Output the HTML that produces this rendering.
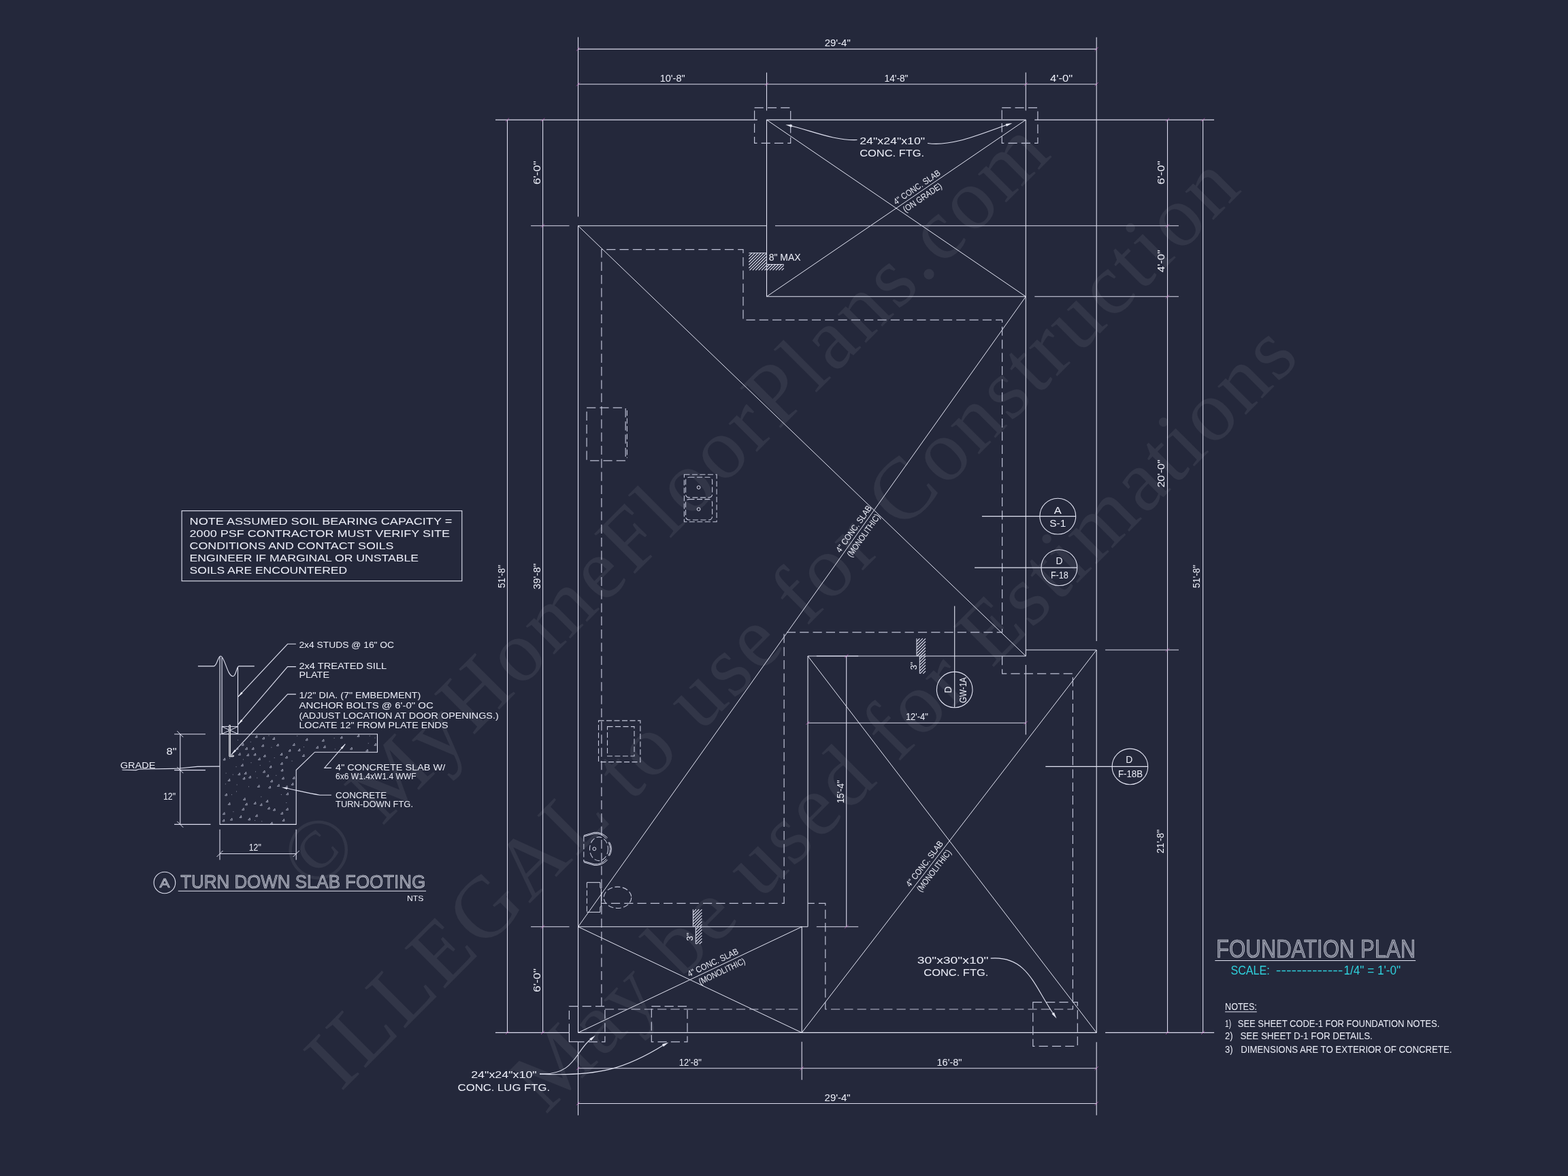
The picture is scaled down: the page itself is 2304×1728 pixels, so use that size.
<!DOCTYPE html>
<html lang="en"><head><meta charset="utf-8"><title>Foundation Plan</title>
<style>
html,body{margin:0;padding:0;background:#24283b;}
body{width:2304px;height:1728px;overflow:hidden;}
svg{display:block;will-change:transform;}
text{font-family:"Liberation Sans",sans-serif;}
.s{stroke:#e2e4f3;stroke-width:1.1;fill:none;}
.g{stroke:#e4e6f4;stroke-width:1.0;fill:none;}
.m{stroke:#dcdcee;stroke-width:1.1;fill:none;}
.d{stroke:#bfc2d6;stroke-width:1.2;fill:none;stroke-dasharray:13.2 6.1;}
.d2{stroke:#c4c7da;stroke-width:1.1;fill:none;stroke-dasharray:8 3.5;}
.h{stroke:#dfe1f1;stroke-width:1.0;fill:none;}
.l{stroke:#dfe1f1;stroke-width:1.1;fill:none;}
.k{stroke:#e060d0;stroke-width:1;fill:none;opacity:.6;}
.f{fill:#e6e8f4;stroke:none;}
.b{stroke:#f4f5fb;stroke-width:2.7;fill:none;stroke-linecap:round;stroke-linejoin:round;}
.t{fill:#eceef8;}
.tt{fill:#e4e6f4;fill-opacity:.4;stroke:#eceef8;stroke-width:.6;stroke-opacity:.9;}
.c{fill:#2fd0dc;}
.wm text{font-family:"Liberation Serif",serif;fill:#ffffff;fill-opacity:.068;}
</style></head>
<body>
<svg xmlns="http://www.w3.org/2000/svg" width="2304" height="1728" viewBox="0 0 2304 1728">
<rect width="2304" height="1728" fill="#24283b"/>

<g class="wm">
<text font-size="128" transform="translate(463 1313) rotate(-45)" textLength="1533" lengthAdjust="spacing">© MyHomeFloorPlans.com</text>
<text font-size="128" transform="translate(501 1605) rotate(-45)" textLength="1874" lengthAdjust="spacing">ILLEGAL to use for Construction</text>
<text font-size="128" transform="translate(801.5 1638.5) rotate(-45)" textLength="1570" lengthAdjust="spacing">May be used for Estimations</text>
</g>
<g id="plan">
<line class="s" x1="1126.5" y1="176.1" x2="1507.3" y2="176.1"/>
<line class="s" x1="1126.5" y1="176.1" x2="1126.5" y2="435.8"/>
<line class="s" x1="1126.5" y1="435.8" x2="1507.3" y2="435.8"/>
<line class="s" x1="1507.3" y1="176.1" x2="1507.3" y2="964.0"/>
<line class="g" x1="1126.5" y1="176.1" x2="1507.3" y2="435.8"/>
<line class="g" x1="1126.5" y1="435.8" x2="1507.3" y2="176.1"/>
<line class="s" x1="849.5" y1="331.8" x2="1126.5" y2="331.8"/>
<line class="s" x1="849.5" y1="331.8" x2="849.5" y2="1517.4"/>
<line class="s" x1="849.5" y1="1361.8" x2="1187.0" y2="1361.8"/>
<line class="g" x1="849.5" y1="331.8" x2="1507.3" y2="964.0"/>
<line class="g" x1="849.5" y1="1361.8" x2="1507.3" y2="435.8"/>
<line class="s" x1="1187.0" y1="964.0" x2="1507.3" y2="964.0"/>
<line class="s" x1="1507.3" y1="955.0" x2="1611.2" y2="955.0"/>
<line class="s" x1="1611.2" y1="955.0" x2="1611.2" y2="1517.4"/>
<line class="s" x1="849.5" y1="1517.4" x2="1611.2" y2="1517.4"/>
<line class="s" x1="1187.0" y1="964.0" x2="1187.0" y2="1361.8"/>
<line class="g" x1="1187.0" y1="964.0" x2="1611.2" y2="1517.4"/>
<line class="g" x1="1178.2" y1="1517.4" x2="1611.2" y2="955.0"/>
<line class="s" x1="1178.2" y1="1361.8" x2="1178.2" y2="1517.4"/>
<line class="g" x1="849.5" y1="1361.8" x2="1178.2" y2="1517.4"/>
<line class="g" x1="849.5" y1="1517.4" x2="1178.2" y2="1361.8"/>
<line class="m" x1="849.5" y1="54.5" x2="849.5" y2="318.4"/>
<line class="m" x1="1126.5" y1="106.6" x2="1126.5" y2="162.6"/>
<line class="m" x1="1507.3" y1="106.6" x2="1507.3" y2="162.6"/>
<line class="m" x1="1611.2" y1="54.8" x2="1611.2" y2="942.0"/>
<line class="m" x1="849.5" y1="72.1" x2="1611.2" y2="72.1"/>
<line class="m" x1="849.5" y1="123.8" x2="1611.2" y2="123.8"/>
<path class="k" d="M846.9 74.7L852.1 69.5"/>
<path class="k" d="M1608.6 74.7L1613.8 69.5"/>
<path class="k" d="M846.9 126.4L852.1 121.2"/>
<path class="k" d="M1123.9 126.4L1129.1 121.2"/>
<path class="k" d="M1504.7 126.4L1509.9 121.2"/>
<path class="k" d="M1608.6 126.4L1613.8 121.2"/>
<line class="m" x1="728.0" y1="176.1" x2="1112.8" y2="176.1"/>
<line class="m" x1="1520.3" y1="176.1" x2="1784.0" y2="176.1"/>
<line class="m" x1="780.1" y1="331.8" x2="836.5" y2="331.8"/>
<line class="m" x1="1139.0" y1="331.8" x2="1731.9" y2="331.8"/>
<line class="m" x1="1520.3" y1="435.8" x2="1731.9" y2="435.8"/>
<line class="m" x1="1624.1" y1="955.0" x2="1732.0" y2="955.0"/>
<line class="m" x1="1624.1" y1="1517.4" x2="1784.1" y2="1517.4"/>
<line class="m" x1="780.1" y1="1361.8" x2="836.5" y2="1361.8"/>
<line class="m" x1="727.9" y1="1517.4" x2="836.4" y2="1517.4"/>
<line class="m" x1="745.5" y1="176.1" x2="745.5" y2="1517.4"/>
<line class="m" x1="797.6" y1="176.1" x2="797.6" y2="1517.4"/>
<line class="m" x1="1715.5" y1="176.1" x2="1715.5" y2="1517.4"/>
<line class="m" x1="1767.6" y1="176.1" x2="1767.6" y2="1517.4"/>
<path class="k" d="M742.9 178.7L748.1 173.5"/>
<path class="k" d="M1765.0 178.7L1770.2 173.5"/>
<path class="k" d="M742.9 1520.0L748.1 1514.8"/>
<path class="k" d="M1765.0 1520.0L1770.2 1514.8"/>
<path class="k" d="M795.0 178.7L800.2 173.5"/>
<path class="k" d="M795.0 334.4L800.2 329.2"/>
<path class="k" d="M795.0 1364.4L800.2 1359.2"/>
<path class="k" d="M795.0 1520.0L800.2 1514.8"/>
<path class="k" d="M1712.9 178.7L1718.1 173.5"/>
<path class="k" d="M1712.9 334.4L1718.1 329.2"/>
<path class="k" d="M1712.9 438.4L1718.1 433.2"/>
<path class="k" d="M1712.9 957.6L1718.1 952.4"/>
<path class="k" d="M1712.9 1520.0L1718.1 1514.8"/>
<line class="m" x1="849.5" y1="1530.8" x2="849.5" y2="1638.8"/>
<line class="m" x1="1178.2" y1="1530.8" x2="1178.2" y2="1586.7"/>
<line class="m" x1="1611.2" y1="1531.2" x2="1611.2" y2="1638.8"/>
<line class="m" x1="849.5" y1="1569.8" x2="1611.2" y2="1569.8"/>
<line class="m" x1="849.5" y1="1621.5" x2="1611.2" y2="1621.5"/>
<path class="k" d="M846.9 1572.4L852.1 1567.2"/>
<path class="k" d="M1175.6 1572.4L1180.8 1567.2"/>
<path class="k" d="M1608.6 1572.4L1613.8 1567.2"/>
<path class="k" d="M846.9 1624.1L852.1 1618.9"/>
<path class="k" d="M1608.6 1624.1L1613.8 1618.9"/>
<line class="m" x1="1243.7" y1="964.0" x2="1243.7" y2="1361.8"/>
<line class="m" x1="1199.8" y1="964.0" x2="1261.2" y2="964.0"/>
<line class="m" x1="1199.8" y1="1361.8" x2="1261.2" y2="1361.8"/>
<path class="k" d="M1241.1 966.6L1246.3 961.4"/>
<path class="k" d="M1241.1 1364.4L1246.3 1359.2"/>
<line class="m" x1="1187.0" y1="1062.2" x2="1507.3" y2="1062.2"/>
<line class="m" x1="1507.3" y1="977.0" x2="1507.3" y2="1079.4"/>
<path class="k" d="M1184.4 1064.8L1189.6 1059.6"/>
<path class="k" d="M1504.7 1064.8L1509.9 1059.6"/>
<path class="d" d="M883.9 1478.7L883.9 366.6L1092.0 366.6L1092.0 470.2L1472.6 470.2L1472.6 929.2L1152.1 929.2L1152.1 1327.4L883.9 1327.4"/>
<path class="d" d="M1472.6 964.0L1472.6 989.8L1576.4 989.8L1576.4 1483.0L1212.8 1483.0L1212.8 1327.4L1187.0 1327.4"/>
<line class="d" x1="888.9" y1="1483.0" x2="1178.2" y2="1483.0"/>
<rect class="d" x="1108.6" y="158.3" width="53.1" height="52.1"/>
<rect class="d" x="1472.2" y="158.3" width="52.7" height="52.1"/>
<path class="d" d="M836.4 1517.4L836.4 1478.7L888.9 1478.7L888.9 1530.8L849.5 1530.8"/>
<path class="m" d="M836.4 1517.4L836.4 1530.8L849.5 1530.8"/>
<rect class="d" x="957.3" y="1478.7" width="52.7" height="52.1"/>
<rect class="d" x="1517.8" y="1472.6" width="65.5" height="64.7"/>
<rect class="d" x="862.1" y="599.2" width="57.1" height="77.7"/>
<line class="d2" x1="921.4" y1="603.0" x2="921.4" y2="673.0"/>
<rect class="d2" x="1005.4" y="697.3" width="47.7" height="69.5"/>
<rect class="d2" x="1007.5" y="701.2" width="39.1" height="29.9" rx="5"/>
<rect class="d2" x="1007.5" y="733.6" width="39.1" height="30.4" rx="5"/>
<circle class="h" cx="1026.6" cy="716.2" r="2.4"/>
<circle class="h" cx="1026.6" cy="748.2" r="2.4"/>
<rect class="d2" x="879.5" y="1058.9" width="61.4" height="60.7"/>
<rect class="d2" x="892.5" y="1067.6" width="39.5" height="43.4"/>
<circle class="h" cx="873.3" cy="1247.3" r="2.4"/>
<ellipse class="d2" cx="880" cy="1247.3" rx="13.5" ry="17.4"/>
<line class="d2" x1="857.8" y1="1228.5" x2="857.8" y2="1266.0"/>
<path class="h" d="M857.8 1227.6L873 1223.2Q884 1222 892.6 1231"/>
<path class="h" d="M857.8 1266.9L873 1271.4Q884 1272.6 892.6 1263.6"/>
<path class="h" d="M895.5 1237.5Q901.5 1247.3 895.5 1257.5"/>
<path class="h" d="M857.8 1229.1999999999998L873 1224.8Q884 1223.6 891.0 1232.6"/>
<path class="h" d="M857.8 1265.3000000000002L873 1269.8000000000002Q884 1271.0 891.0 1262.0"/>
<path class="h" d="M893.9 1237.5Q899.9 1247.3 893.9 1257.5"/>
<path class="h" d="M862.4 1296.7L881.9 1296.7L881.9 1304L883.4 1306L883.4 1331L881.9 1333L881.9 1340.3L862.4 1340.3"/>
<line class="d2" x1="862.4" y1="1296.7" x2="862.4" y2="1340.3"/>
<ellipse class="d2" cx="907.5" cy="1318.8" rx="20.3" ry="15.7"/>
<path class="h" style="stroke-width:1.15" d="M1100.4 376.2L1104.8 371.8M1100.4 380.6L1109.2 371.8M1100.4 385.0L1113.6 371.8M1100.4 389.4L1118.0 371.8M1100.4 393.8L1122.4 371.8M1101.5 397.1L1126.0 372.6M1105.9 397.1L1126.0 377.0M1110.3 397.1L1126.0 381.4M1114.7 397.1L1126.0 385.8M1119.1 397.1L1126.0 390.2M1123.5 397.1L1126.0 394.6"/>
<line class="h" x1="1100.4" y1="371.8" x2="1126.5" y2="371.8"/>
<path class="h" style="stroke-width:1.15" d="M1126.5 392.9L1130.9 388.5M1126.7 397.1L1135.3 388.5M1131.1 397.1L1139.7 388.5M1135.5 397.1L1144.1 388.5M1139.9 397.1L1148.5 388.5M1144.3 397.1L1151.7 389.7M1148.7 397.1L1151.7 394.1"/>
<line class="h" x1="1126.5" y1="388.5" x2="1151.7" y2="388.5"/>
<path class="h" style="stroke-width:1.15" d="M1347.0 942.5L1351.4 938.1M1347.0 946.9L1355.8 938.1M1347.0 951.3L1360.0 938.3M1347.0 955.7L1360.0 942.7M1347.0 960.1L1360.0 947.1M1347.5 964.0L1360.0 951.5M1351.9 964.0L1360.0 955.9M1356.3 964.0L1360.0 960.3"/>
<line class="h" x1="1347.0" y1="938.1" x2="1347.0" y2="964.0"/>
<path class="h" style="stroke-width:1.15" d="M1351.3 968.4L1355.7 964.0M1351.3 972.8L1360.0 964.1M1351.3 977.2L1360.0 968.5M1351.3 981.6L1360.0 972.9M1351.3 986.0L1360.0 977.3M1351.9 989.8L1360.0 981.7M1356.3 989.8L1360.0 986.1"/>
<line class="h" x1="1351.3" y1="964.0" x2="1351.3" y2="989.8"/>
<path class="h" style="stroke-width:1.15" d="M1018.4 1340.6L1022.8 1336.2M1018.4 1345.0L1027.2 1336.2M1018.4 1349.4L1031.4 1336.4M1018.4 1353.8L1031.4 1340.8M1018.4 1358.2L1031.4 1345.2M1019.2 1361.8L1031.4 1349.6M1023.6 1361.8L1031.4 1354.0M1028.0 1361.8L1031.4 1358.4"/>
<line class="h" x1="1018.4" y1="1336.2" x2="1018.4" y2="1361.8"/>
<path class="h" style="stroke-width:1.15" d="M1022.3 1366.2L1026.7 1361.8M1022.3 1370.6L1031.1 1361.8M1022.3 1375.0L1031.4 1365.9M1022.3 1379.4L1031.4 1370.3M1022.3 1383.8L1031.4 1374.7M1023.3 1387.2L1031.4 1379.1M1027.7 1387.2L1031.4 1383.5"/>
<line class="h" x1="1022.3" y1="1361.8" x2="1022.3" y2="1387.2"/>
<circle class="s" cx="1554.3" cy="758.6" r="26.4"/>
<line class="s" x1="1442.9" y1="758.6" x2="1580.7" y2="758.6"/>
<circle class="s" cx="1556.4" cy="834.1" r="26.4"/>
<line class="s" x1="1432.1" y1="834.1" x2="1582.9" y2="834.1"/>
<circle class="s" cx="1660.4" cy="1126.4" r="26.3"/>
<line class="s" x1="1536.3" y1="1126.4" x2="1686.6" y2="1126.4"/>
<circle class="s" cx="1402.7" cy="1013.4" r="26.3"/>
<line class="s" x1="1402.7" y1="890.4" x2="1402.7" y2="1039.7"/>
<path class="s" d="M1259.5 205.5C1225 207 1190 191 1160 184.5"/>
<path class="f" d="M1154.3 183.2L1164.0 183.2L1163.2 187.1Z"/>
<path class="s" d="M1363 210.5C1400 216 1445 195 1481 183"/>
<path class="f" d="M1487.4 181.1L1478.9 185.8L1477.7 182.0Z"/>
<path class="s" d="M1455.7 1408.1C1510 1404 1520 1450 1548 1490"/>
<path class="f" d="M1552.5 1496.5L1545.5 1489.7L1548.8 1487.5Z"/>
<path class="s" d="M793 1578.1C845 1580 845 1545 868 1527"/>
<path class="f" d="M874.8 1521.6L868.8 1529.2L866.2 1526.2Z"/>
<path class="s" d="M793 1578.1C880 1582 920 1570 976 1535"/>
<path class="f" d="M982.4 1531.8L974.8 1537.9L973.0 1534.3Z"/>
</g>
<g id="plantext">
<text class="t" font-size="15.36" text-anchor="middle" textLength="38.0" lengthAdjust="spacingAndGlyphs" x="1230.7" y="68.3">29'-4&quot;</text>
<text class="t" font-size="15.36" text-anchor="middle" textLength="37.0" lengthAdjust="spacingAndGlyphs" x="988.2" y="119.9">10'-8&quot;</text>
<text class="t" font-size="15.36" text-anchor="middle" textLength="35.0" lengthAdjust="spacingAndGlyphs" x="1317.0" y="119.9">14'-8&quot;</text>
<text class="t" font-size="15.36" text-anchor="middle" textLength="33.0" lengthAdjust="spacingAndGlyphs" x="1559.6" y="119.9">4'-0&quot;</text>
<text class="t" font-size="15.36" text-anchor="middle" textLength="33.0" lengthAdjust="spacingAndGlyphs" x="1014.3" y="1565.5">12'-8&quot;</text>
<text class="t" font-size="15.36" text-anchor="middle" textLength="37.0" lengthAdjust="spacingAndGlyphs" x="1395.0" y="1565.5">16'-8&quot;</text>
<text class="t" font-size="15.36" text-anchor="middle" textLength="38.0" lengthAdjust="spacingAndGlyphs" x="1230.6" y="1617.6">29'-4&quot;</text>
<text class="t" font-size="15.36" text-anchor="middle" textLength="33.0" lengthAdjust="spacingAndGlyphs" x="1347.4" y="1058.1">12'-4&quot;</text>
<text class="t" font-size="15.36" text-anchor="middle" textLength="34.0" lengthAdjust="spacingAndGlyphs" transform="translate(741.7 847.0) rotate(-90)">51'-8&quot;</text>
<text class="t" font-size="15.36" text-anchor="middle" textLength="38.0" lengthAdjust="spacingAndGlyphs" transform="translate(793.8 847.0) rotate(-90)">39'-8&quot;</text>
<text class="t" font-size="15.36" text-anchor="middle" textLength="35.0" lengthAdjust="spacingAndGlyphs" transform="translate(793.8 253.8) rotate(-90)">6'-0&quot;</text>
<text class="t" font-size="15.36" text-anchor="middle" textLength="35.0" lengthAdjust="spacingAndGlyphs" transform="translate(793.8 1440.5) rotate(-90)">6'-0&quot;</text>
<text class="t" font-size="15.36" text-anchor="middle" textLength="35.0" lengthAdjust="spacingAndGlyphs" transform="translate(1711.3 253.8) rotate(-90)">6'-0&quot;</text>
<text class="t" font-size="15.36" text-anchor="middle" textLength="33.0" lengthAdjust="spacingAndGlyphs" transform="translate(1711.3 383.7) rotate(-90)">4'-0&quot;</text>
<text class="t" font-size="15.36" text-anchor="middle" textLength="41.0" lengthAdjust="spacingAndGlyphs" transform="translate(1711.3 695.8) rotate(-90)">20'-0&quot;</text>
<text class="t" font-size="15.36" text-anchor="middle" textLength="35.0" lengthAdjust="spacingAndGlyphs" transform="translate(1710.3 1236.4) rotate(-90)">21'-8&quot;</text>
<text class="t" font-size="15.36" text-anchor="middle" textLength="34.0" lengthAdjust="spacingAndGlyphs" transform="translate(1763.1 847.0) rotate(-90)">51'-8&quot;</text>
<text class="t" font-size="15.36" text-anchor="middle" textLength="34.0" lengthAdjust="spacingAndGlyphs" transform="translate(1239.5 1163.3) rotate(-90)">15'-4&quot;</text>
<text class="t" font-size="15.36" text-anchor="start" textLength="96.0" lengthAdjust="spacingAndGlyphs" x="1263.2" y="211.5">24&quot;x24&quot;x10&quot;</text>
<text class="t" font-size="15.36" text-anchor="start" textLength="95.0" lengthAdjust="spacingAndGlyphs" x="1263.2" y="230.0">CONC. FTG.</text>
<text class="t" font-size="15.36" text-anchor="end" textLength="104.5" lengthAdjust="spacingAndGlyphs" x="1452.3" y="1415.9">30&quot;x30&quot;x10&quot;</text>
<text class="t" font-size="15.36" text-anchor="end" textLength="95.0" lengthAdjust="spacingAndGlyphs" x="1452.3" y="1433.7">CONC. FTG.</text>
<text class="t" font-size="15.36" text-anchor="end" textLength="96.5" lengthAdjust="spacingAndGlyphs" x="788.7" y="1584.4">24&quot;x24&quot;x10&quot;</text>
<text class="t" font-size="15.36" text-anchor="start" textLength="135.5" lengthAdjust="spacingAndGlyphs" x="672.6" y="1603.1">CONC. LUG FTG.</text>
<text class="t" font-size="13.97" text-anchor="start" textLength="47.0" lengthAdjust="spacingAndGlyphs" x="1129.7" y="383.4">8&quot; MAX</text>
<text class="t" font-size="13.27" text-anchor="middle" textLength="12.0" lengthAdjust="spacingAndGlyphs" transform="translate(1346.5 978.3) rotate(-90)">3&quot;</text>
<text class="t" font-size="13.27" text-anchor="middle" textLength="12.0" lengthAdjust="spacingAndGlyphs" transform="translate(1017.5 1376.4) rotate(-90)">3&quot;</text>
<text class="t" font-size="13.97" text-anchor="middle" textLength="11.0" lengthAdjust="spacingAndGlyphs" x="1554.3" y="754.5">A</text>
<text class="t" font-size="13.97" text-anchor="middle" textLength="24.0" lengthAdjust="spacingAndGlyphs" x="1554.3" y="774.4">S-1</text>
<text class="t" font-size="13.97" text-anchor="middle" textLength="10.0" lengthAdjust="spacingAndGlyphs" x="1556.4" y="829.3">D</text>
<text class="t" font-size="13.97" text-anchor="middle" textLength="26.0" lengthAdjust="spacingAndGlyphs" x="1556.9" y="850.0">F-18</text>
<text class="t" font-size="13.97" text-anchor="middle" textLength="10.0" lengthAdjust="spacingAndGlyphs" x="1659.3" y="1121.4">D</text>
<text class="t" font-size="13.97" text-anchor="middle" textLength="36.0" lengthAdjust="spacingAndGlyphs" x="1661.0" y="1142.0">F-18B</text>
<text class="t" font-size="13.97" text-anchor="middle" textLength="10.0" lengthAdjust="spacingAndGlyphs" transform="translate(1398.0 1013.4) rotate(-90)">D</text>
<text class="t" font-size="13.97" text-anchor="middle" textLength="38.0" lengthAdjust="spacingAndGlyphs" transform="translate(1419.7 1014.1) rotate(-90)">GW-1A</text>
<g transform="translate(1319.0 304.5) rotate(-34.3)">
<text class="t" font-size="12.85" text-anchor="start" textLength="80.0" lengthAdjust="spacingAndGlyphs" x="0.0" y="-4.0">4&quot; CONC. SLAB</text>
<text class="t" font-size="12.85" text-anchor="start" textLength="66.0" lengthAdjust="spacingAndGlyphs" x="5.0" y="13.2">(ON GRADE)</text>
</g>
<g transform="translate(1238.0 815.0) rotate(-54.61)">
<text class="t" font-size="12.85" text-anchor="start" textLength="81.0" lengthAdjust="spacingAndGlyphs" x="0.0" y="-4.0">4&quot; CONC. SLAB</text>
<text class="t" font-size="12.85" text-anchor="start" textLength="74.0" lengthAdjust="spacingAndGlyphs" x="4.0" y="13.2">(MONOLITHIC)</text>
</g>
<g transform="translate(1340.4 1306.5) rotate(-52.41)">
<text class="t" font-size="12.85" text-anchor="start" textLength="81.0" lengthAdjust="spacingAndGlyphs" x="0.0" y="-4.0">4&quot; CONC. SLAB</text>
<text class="t" font-size="12.85" text-anchor="start" textLength="74.0" lengthAdjust="spacingAndGlyphs" x="4.0" y="13.2">(MONOLITHIC)</text>
</g>
<g transform="translate(1014.5 1439.3) rotate(-25.33)">
<text class="t" font-size="12.85" text-anchor="start" textLength="81.0" lengthAdjust="spacingAndGlyphs" x="0.0" y="-4.0">4&quot; CONC. SLAB</text>
<text class="t" font-size="12.85" text-anchor="start" textLength="74.0" lengthAdjust="spacingAndGlyphs" x="10.0" y="13.2">(MONOLITHIC)</text>
</g>
</g>
<g id="note">
<rect class="s" x="267.1" y="750.6" width="411.7" height="103.1"/>
<text class="t" font-size="14.53" text-anchor="start" textLength="385.7" lengthAdjust="spacingAndGlyphs" x="278.6" y="770.8">NOTE ASSUMED SOIL BEARING CAPACITY =</text>
<text class="t" font-size="14.53" text-anchor="start" textLength="382.4" lengthAdjust="spacingAndGlyphs" x="278.6" y="788.8">2000 PSF CONTRACTOR MUST VERIFY SITE</text>
<text class="t" font-size="14.53" text-anchor="start" textLength="299.9" lengthAdjust="spacingAndGlyphs" x="278.6" y="806.8">CONDITIONS AND CONTACT SOILS</text>
<text class="t" font-size="14.53" text-anchor="start" textLength="336.4" lengthAdjust="spacingAndGlyphs" x="278.6" y="824.8">ENGINEER IF MARGINAL OR UNSTABLE</text>
<text class="t" font-size="14.53" text-anchor="start" textLength="231.6" lengthAdjust="spacingAndGlyphs" x="278.6" y="842.8">SOILS ARE ENCOUNTERED</text>
</g>
<g id="detail">
<path class="s" d="M323 1078.7L554.5 1078.7L554.5 1105.2L462.5 1105.2L435.2 1131.6L435.2 1211.4L323 1211.4Z"/>
<line class="s" x1="323.0" y1="964.5" x2="323.0" y2="1078.7"/>
<line class="s" x1="326.1" y1="966.0" x2="326.1" y2="1078.7"/>
<line class="s" x1="349.5" y1="980.0" x2="349.5" y2="1078.7"/>
<path class="s" d="M290.9 978.9L314.1 978.9C319 978.9 320 964 324.2 964C330 964 334 993.8 342.3 993.8C347 993.8 347.5 978.9 351 978.9L373.8 978.9"/>
<rect class="h" x="326.1" y="1067.6" width="23.4" height="10.8"/>
<line class="h" x1="326.1" y1="1067.6" x2="349.5" y2="1078.4"/>
<line class="h" x1="326.1" y1="1078.4" x2="349.5" y2="1067.6"/>
<path class="b" d="M337.6 1066.4L337.6 1110.8L342.6 1110.8"/>
<path class="b" d="M337.6 1066.4L337.6 1110.8L342.6 1110.8" style="stroke:#3a3e52;stroke-width:0.7"/>
<line class="m" x1="264.8" y1="1078.7" x2="264.8" y2="1211.4"/>
<line class="m" x1="256.1" y1="1078.7" x2="301.9" y2="1078.7"/>
<line class="m" x1="256.1" y1="1131.6" x2="301.9" y2="1131.6"/>
<line class="m" x1="256.1" y1="1211.4" x2="309.5" y2="1211.4"/>
<line class="h" x1="260.3" y1="1074.2" x2="269.3" y2="1083.2"/>
<line class="h" x1="260.3" y1="1127.1" x2="269.3" y2="1136.1"/>
<line class="h" x1="260.3" y1="1206.9" x2="269.3" y2="1215.9"/>
<line class="m" x1="323.0" y1="1218.7" x2="323.0" y2="1263.5"/>
<line class="m" x1="435.2" y1="1218.7" x2="435.2" y2="1263.5"/>
<line class="m" x1="323.0" y1="1254.5" x2="435.2" y2="1254.5"/>
<line class="h" x1="318.5" y1="1259.0" x2="327.5" y2="1250.0"/>
<line class="h" x1="430.7" y1="1259.0" x2="439.7" y2="1250.0"/>
<text class="t" font-size="13.97" text-anchor="middle" textLength="15.0" lengthAdjust="spacingAndGlyphs" x="252.0" y="1109.2">8&quot;</text>
<text class="t" font-size="13.97" text-anchor="middle" textLength="18.0" lengthAdjust="spacingAndGlyphs" x="249.0" y="1174.9">12&quot;</text>
<text class="t" font-size="13.97" text-anchor="middle" textLength="18.0" lengthAdjust="spacingAndGlyphs" x="374.8" y="1249.7">12&quot;</text>
<text class="t" font-size="12.85" text-anchor="start" textLength="51.5" lengthAdjust="spacingAndGlyphs" x="176.8" y="1128.6">GRADE</text>
<path class="l" d="M179.5 1131.3L200 1131.6L204 1130.2L262 1129.3L290 1126.4L323 1126.1"/>
<path class="l" d="M434.9 946.3L422.6 946.3L349.8 1023.9"/>
<path class="f" d="M349.8 1023.9L354.5 1016.7L356.7 1018.7Z"/>
<path class="l" d="M434.9 979.6L422.6 979.6L349.8 1064.7"/>
<path class="f" d="M349.8 1064.7L354.2 1057.3L356.5 1059.2Z"/>
<path class="l" d="M434.9 1020.1L422.6 1020.1L340.1 1108.8"/>
<path class="f" d="M340.1 1108.8L344.8 1101.6L347.0 1103.6Z"/>
<path class="l" d="M486.9 1128.4L476.8 1128.4L507.3 1093.4"/>
<path class="f" d="M507.3 1093.4L502.9 1100.8L500.6 1098.8Z"/>
<path class="l" d="M486.9 1168.2L470 1168.2C455 1166 435 1161 420 1158"/>
<path class="f" d="M413.7 1156.8L422.3 1156.9L421.8 1159.9Z"/>
<text class="t" font-size="13.41" text-anchor="start" textLength="139.7" lengthAdjust="spacingAndGlyphs" x="439.4" y="951.9">2x4 STUDS @ 16&quot; OC</text>
<text class="t" font-size="13.41" text-anchor="start" textLength="128.8" lengthAdjust="spacingAndGlyphs" x="439.4" y="983.1">2x4 TREATED SILL</text>
<text class="t" font-size="13.41" text-anchor="start" textLength="44.7" lengthAdjust="spacingAndGlyphs" x="439.4" y="995.9">PLATE</text>
<text class="t" font-size="13.41" text-anchor="start" textLength="179.0" lengthAdjust="spacingAndGlyphs" x="439.4" y="1025.7">1/2&quot; DIA. (7&quot; EMBEDMENT)</text>
<text class="t" font-size="13.41" text-anchor="start" textLength="197.4" lengthAdjust="spacingAndGlyphs" x="439.4" y="1040.6">ANCHOR BOLTS @ 6'-0&quot; OC</text>
<text class="t" font-size="13.41" text-anchor="start" textLength="293.4" lengthAdjust="spacingAndGlyphs" x="439.4" y="1055.5">(ADJUST LOCATION AT DOOR OPENINGS.)</text>
<text class="t" font-size="13.41" text-anchor="start" textLength="219.1" lengthAdjust="spacingAndGlyphs" x="439.4" y="1070.4">LOCATE 12&quot; FROM PLATE ENDS</text>
<text class="t" font-size="13.41" text-anchor="start" textLength="161.1" lengthAdjust="spacingAndGlyphs" x="493.1" y="1132.3">4&quot; CONCRETE SLAB W/</text>
<text class="t" font-size="13.41" text-anchor="start" textLength="118.5" lengthAdjust="spacingAndGlyphs" x="493.1" y="1145.0">6x6 W1.4xW1.4 WWF</text>
<text class="t" font-size="13.41" text-anchor="start" textLength="75.1" lengthAdjust="spacingAndGlyphs" x="493.1" y="1173.0">CONCRETE</text>
<text class="t" font-size="13.41" text-anchor="start" textLength="113.9" lengthAdjust="spacingAndGlyphs" x="493.1" y="1186.0">TURN-DOWN FTG.</text>
<path class="h" style="stroke-width:0.7;stroke:#c9ccdf" d="M398.5 1098.2l0.9 0M473.2 1089.2L476.2 1089.2L475.6 1086.2ZM335.0 1147.5L338.0 1147.5L337.4 1144.5ZM331.7 1136.1l0.9 0M420.4 1190.3L423.4 1190.3L422.8 1187.3ZM350.3 1109.4L353.3 1109.4L352.7 1106.4ZM550.5 1084.2l0.9 0M355.1 1095.3L358.1 1095.3L357.5 1092.3ZM393.4 1188.9L396.4 1188.9L395.8 1185.9ZM365.1 1155.9l0.9 0M449.1 1087.9L452.1 1087.9L451.5 1084.9ZM394.7 1158.0L397.7 1158.0L397.1 1155.0ZM428.6 1118.2l0.9 0M378.4 1156.5L381.4 1156.5L380.8 1153.5ZM549.9 1095.3L552.9 1095.3L552.3 1092.3ZM420.4 1179.5l0.9 0M356.9 1145.0L359.9 1145.0L359.3 1142.0ZM330.6 1169.0L333.6 1169.0L333.0 1166.0ZM412.9 1167.6l0.9 0M335.2 1182.4L338.2 1182.4L337.6 1179.4ZM412.6 1196.3L415.6 1196.3L415.0 1193.3ZM341.8 1138.2l0.9 0M386.4 1135.1L389.4 1135.1L388.8 1132.1ZM362.6 1110.6L365.6 1110.6L365.0 1107.6ZM377.4 1143.0l0.9 0M407.5 1155.4L410.5 1155.4L409.9 1152.4ZM412.9 1133.0L415.9 1133.0L415.3 1130.0ZM347.1 1163.0l0.9 0M370.1 1101.2L373.1 1101.2L372.5 1098.2ZM400.7 1086.5L403.7 1086.5L403.1 1083.5ZM346.6 1126.7l0.9 0M327.4 1196.7L330.4 1196.7L329.8 1193.7ZM464.6 1099.4L467.6 1099.4L467.0 1096.4ZM381.8 1124.6l0.9 0M406.4 1096.0L409.4 1096.0L408.8 1093.0ZM430.1 1144.3L433.1 1144.3L432.5 1141.3ZM402.8 1113.5l0.9 0M514.6 1101.1L517.6 1101.1L517.0 1098.1ZM326.9 1206.9L329.9 1206.9L329.3 1203.9ZM446.1 1097.6l0.9 0M360.4 1182.9L363.4 1182.9L362.8 1179.9ZM328.0 1116.9L331.0 1116.9L330.4 1113.9ZM383.4 1170.8l0.9 0M372.9 1109.9L375.9 1109.9L375.3 1106.9ZM415.0 1206.4L418.0 1206.4L417.4 1203.4ZM491.9 1100.8l0.9 0M355.6 1190.3L358.6 1190.3L358.0 1187.3ZM352.0 1201.4L355.0 1201.4L354.4 1198.4ZM405.4 1139.4l0.9 0M424.0 1104.0L427.0 1104.0L426.4 1101.0ZM397.5 1149.0L400.5 1149.0L399.9 1146.0ZM347.7 1153.1l0.9 0M379.4 1116.6L382.4 1116.6L381.8 1113.6ZM349.8 1138.7L352.8 1138.7L352.2 1135.7ZM340.0 1167.7l0.9 0M357.5 1175.5L360.5 1175.5L359.9 1172.5ZM475.3 1098.7L478.3 1098.7L477.7 1095.7ZM374.2 1205.6l0.9 0M414.3 1144.8L417.3 1144.8L416.7 1141.8ZM359.1 1137.3L362.1 1137.3L361.5 1134.3ZM368.6 1120.7l0.9 0M384.5 1096.9L387.5 1096.9L386.9 1093.9ZM338.4 1205.2L341.4 1205.2L340.8 1202.2ZM342.5 1192.7l0.9 0M444.3 1111.5L447.3 1111.5L446.7 1108.5ZM347.0 1101.1L350.0 1101.1L349.4 1098.1ZM395.7 1118.9l0.9 0M438.0 1103.3L441.0 1103.3L440.4 1100.3ZM365.6 1143.1L368.6 1143.1L368.0 1140.1ZM540.8 1092.2l0.9 0M401.4 1191.0L404.4 1191.0L403.8 1188.0ZM387.2 1112.0L390.2 1112.0L389.6 1109.0ZM384.3 1206.9l0.9 0M412.3 1123.2L415.3 1123.2L414.7 1120.2ZM375.1 1083.7L378.1 1083.7L377.5 1080.7ZM337.1 1114.0l0.9 0M430.2 1095.4L433.2 1095.4L432.6 1092.4ZM375.4 1199.8L378.4 1199.8L377.8 1196.8ZM436.3 1081.3l0.9 0M354.3 1125.6L357.3 1125.6L356.7 1122.6ZM385.6 1086.0L388.6 1086.0L388.0 1083.0ZM490.7 1084.6l0.9 0M390.9 1178.5L393.9 1178.5L393.3 1175.5ZM360.5 1101.2L363.5 1101.2L362.9 1098.2ZM367.8 1090.2l0.9 0M524.9 1082.4L527.9 1082.4L527.3 1079.4ZM428.1 1153.4L431.1 1153.4L430.5 1150.4ZM349.1 1087.4l0.9 0M411.9 1109.5L414.9 1109.5L414.3 1106.5ZM391.8 1141.2L394.8 1141.2L394.2 1138.2ZM394.6 1080.9l0.9 0M419.4 1114.0L422.4 1114.0L421.8 1111.0ZM373.1 1181.4L376.1 1181.4L375.5 1178.4ZM375.0 1133.9l0.9 0M364.7 1204.9L367.7 1204.9L367.1 1201.9ZM500.1 1084.9L503.1 1084.9L502.5 1081.9ZM542.8 1081.3l0.9 0M537.7 1104.0L540.7 1104.0L540.1 1101.0ZM396.0 1128.0L399.0 1128.0L398.4 1125.0ZM330.9 1152.0l0.9 0M397.4 1210.9L400.4 1210.9L399.8 1207.9ZM382.1 1183.7L385.1 1183.7L384.5 1180.7ZM357.0 1116.0l0.9 0M419.4 1157.6L422.4 1157.6L421.8 1154.6ZM420.7 1167.8L423.7 1167.8L423.1 1164.8Z"/>
<circle class="s" cx="241.9" cy="1297.0" r="15.8"/>
<text class="tt" font-size="18.85" text-anchor="middle" textLength="15.0" lengthAdjust="spacingAndGlyphs" x="241.9" y="1304.0">A</text>
<text class="tt" font-size="28.49" text-anchor="start" textLength="360.0" lengthAdjust="spacingAndGlyphs" x="265.2" y="1305.1">TURN DOWN SLAB FOOTING</text>
<line class="s" x1="261.7" y1="1309.2" x2="626.0" y2="1309.2"/>
<text class="t" font-size="11.45" text-anchor="start" textLength="24.4" lengthAdjust="spacingAndGlyphs" x="598.0" y="1324.1">NTS</text>
</g>
<g id="title">
<text class="tt" font-size="37.71" text-anchor="start" textLength="293.0" lengthAdjust="spacingAndGlyphs" x="1787.1" y="1407.0">FOUNDATION PLAN</text>
<line class="s" x1="1785.3" y1="1411.5" x2="2080.1" y2="1411.5"/>
<text class="c" font-size="17.60" text-anchor="start" textLength="57.3" lengthAdjust="spacingAndGlyphs" x="1808.5" y="1432.3">SCALE:</text>
<text class="c" font-size="17.60" text-anchor="start" textLength="98.6" lengthAdjust="spacingAndGlyphs" x="1874.8" y="1432.3">-------------</text>
<text class="c" font-size="17.60" text-anchor="start" textLength="83.4" lengthAdjust="spacingAndGlyphs" x="1974.6" y="1432.3">1/4&quot; = 1'-0&quot;</text>
<text class="t" font-size="14.66" text-anchor="start" textLength="46.7" lengthAdjust="spacingAndGlyphs" x="1800.1" y="1484.4">NOTES:</text>
<line class="h" x1="1800.1" y1="1486.8" x2="1846.8" y2="1486.8"/>
<text class="t" font-size="14.39" text-anchor="start" textLength="9.0" lengthAdjust="spacingAndGlyphs" x="1800.1" y="1509.2">1)</text>
<text class="t" font-size="14.39" text-anchor="start" textLength="296.5" lengthAdjust="spacingAndGlyphs" x="1818.8" y="1509.2">SEE SHEET CODE-1 FOR FOUNDATION NOTES.</text>
<text class="t" font-size="14.39" text-anchor="start" textLength="11.5" lengthAdjust="spacingAndGlyphs" x="1800.1" y="1527.3">2)</text>
<text class="t" font-size="14.39" text-anchor="start" textLength="194.4" lengthAdjust="spacingAndGlyphs" x="1822.4" y="1527.3">SEE SHEET D-1 FOR DETAILS.</text>
<text class="t" font-size="14.39" text-anchor="start" textLength="11.5" lengthAdjust="spacingAndGlyphs" x="1800.1" y="1546.6">3)</text>
<text class="t" font-size="14.39" text-anchor="start" textLength="310.1" lengthAdjust="spacingAndGlyphs" x="1823.3" y="1546.6">DIMENSIONS ARE TO EXTERIOR OF CONCRETE.</text>
</g>
</svg>
</body></html>
